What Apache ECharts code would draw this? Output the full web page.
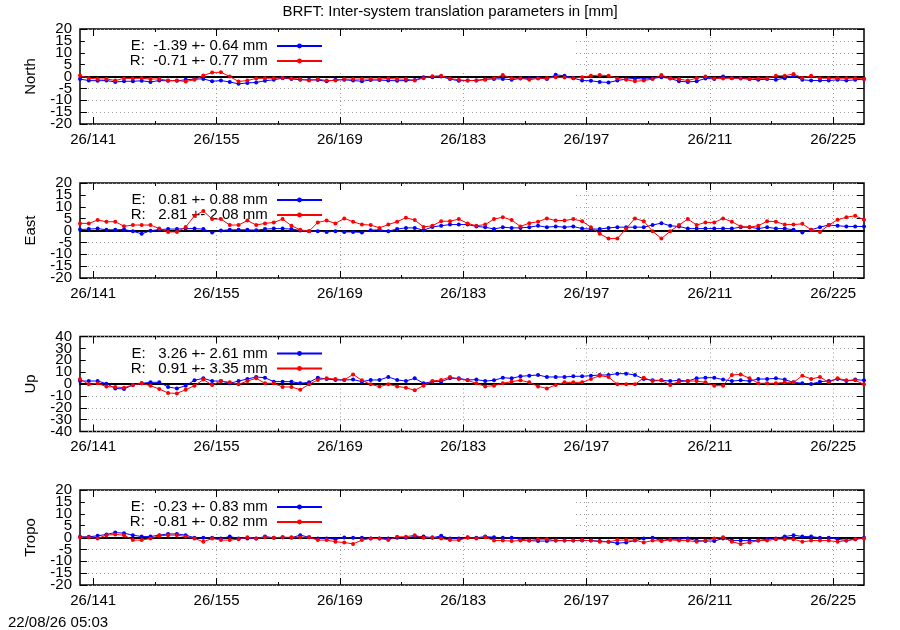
<!DOCTYPE html>
<html><head><meta charset="utf-8">
<script src="https://cdn.jsdelivr.net/npm/echarts@6/dist/echarts.min.js"></script>
<style>html,body{margin:0;padding:0;background:#fff}#c{width:900px;height:630px}</style>
</head><body><div id="c"></div>
<script>
// ---------- data ----------
const firstDay = 139.5;            // first sample (day-of-year, noon)
const xMin = 139.5, xMax = 228.5;
const majorTicks = [141, 155, 169, 183, 197, 211, 225];
const minorTicks = [148, 162, 176, 190, 204, 218];
const gridTicks  = [155, 169, 183, 197, 211, 225];
const tickPrefix = '26/';
const titleText = 'BRFT: Inter-system translation parameters in [mm]';
const stampText = '22/08/26 05:03';
const panelNames = ['North', 'East', 'Up', 'Tropo'];
const yRanges = [[-20, 20, 5], [-20, 20, 5], [-40, 40, 10], [-20, 20, 5]];
// y tick labels, split in two interleaved sets so none are dropped for overlap
const yLabelsA = [[20, 10, 0, -10, -20], [20, 10, 0, -10, -20], [40, 20, 0, -20, -40], [20, 10, 0, -10, -20]];
const yLabelsB = [[15, 5, -5, -15], [15, 5, -5, -15], [30, 10, -10, -30], [15, 5, -5, -15]];
const legendE = ['E:  -1.39 +- 0.64 mm', 'E:   0.81 +- 0.88 mm', 'E:   3.26 +- 2.61 mm', 'E:  -0.23 +- 0.83 mm'];
const legendR = ['R:  -0.71 +- 0.77 mm', 'R:   2.81 +- 2.08 mm', 'R:   0.91 +- 3.35 mm', 'R:  -0.81 +- 0.82 mm'];

const northE = [-1.1,-1.7,-1.8,-1.7,-2.3,-2.0,-2.0,-1.8,-2.3,-1.7,-1.8,-1.8,-1.4,-1.1,-1.0,-2.0,-1.7,-2.3,-3.1,-2.7,-2.5,-1.8,-1.4,-0.7,-1.0,-1.4,-1.4,-1.5,-2.0,-1.4,-1.4,-1.7,-2.0,-1.5,-1.5,-1.7,-1.8,-1.7,-1.5,-0.3,-0.3,0.0,-1.1,-1.8,-1.7,
  -1.7,-1.1,-1.0,-1.0,-1.4,-0.8,-0.7,-0.6,-1.1,0.7,0.3,-0.7,-1.7,-1.8,-2.3,-2.5,-1.7,-1.1,-0.8,-1.1,-0.8,-0.3,-0.8,-2.0,-2.3,-2.0,-0.8,-1.0,0.0,-0.7,-0.7,-1.1,-1.4,-1.1,-1.4,-0.7,0.3,-1.4,-1.7,-1.7,-1.7,-1.4,-1.7,-1.4,-1.1];
const northR = [0.4,-0.7,-1.1,-1.0,-1.7,-0.8,-0.8,-0.7,-1.1,-1.0,-1.7,-1.7,-2.1,-1.4,0.4,1.7,1.8,0.0,-2.1,-1.7,-0.8,-0.7,-0.7,-0.6,-0.8,-1.1,-1.7,-1.1,-1.7,-1.7,-1.1,-1.1,-1.1,-1.1,-1.1,-0.8,-1.1,-1.1,-1.7,-0.7,0.1,0.3,-0.8,-1.4,-1.7,
  -1.7,-1.4,-0.7,0.6,-0.7,-0.7,-1.4,-0.8,-0.7,-0.3,-0.4,-0.7,-0.3,0.3,0.6,0.3,-0.8,-1.4,-2.0,-1.7,-1.1,0.6,-0.7,-1.1,-1.7,-0.7,0.0,-0.8,-0.8,-0.7,-0.8,-1.1,-0.8,-0.7,0.3,0.3,1.1,-0.6,0.3,-0.7,-0.7,-0.7,-0.7,-0.7,-1.1];
const eastE = [0.4,0.6,0.8,0.3,0.3,0.4,-0.3,-1.4,-0.1,0.4,0.6,0.6,0.8,0.8,0.6,-0.8,0.0,0.3,0.3,0.3,0.1,0.6,0.8,0.8,0.6,0.0,-0.3,-0.3,-0.6,-0.3,-0.6,-0.6,-0.8,0.1,0.3,-0.3,0.6,1.1,1.1,0.1,1.5,2.0,2.5,2.5,2.5,
  1.7,1.4,0.6,1.4,1.1,1.1,1.4,2.0,1.4,1.7,1.4,1.7,0.8,0.6,0.6,1.1,1.4,1.4,1.4,1.4,2.3,3.1,2.0,1.7,0.8,0.8,0.8,0.8,0.8,0.8,1.4,1.4,0.8,1.4,0.8,0.8,0.3,-0.8,0.3,1.4,2.3,2.0,1.7,1.7,1.7];
const eastR = [3.0,3.0,4.4,3.7,3.7,1.8,2.3,2.3,2.3,0.8,-0.6,-0.6,1.5,6.2,8.2,4.8,4.8,2.3,2.3,4.2,2.3,3.0,3.4,4.8,2.0,0.3,-0.3,3.4,4.2,3.0,5.1,3.7,2.5,2.3,1.1,2.5,3.7,5.4,4.4,1.5,2.0,3.9,3.9,4.8,3.0,
  2.0,2.5,4.8,5.6,4.4,1.7,3.1,3.7,5.1,4.2,4.2,4.8,3.9,1.4,-1.4,-3.4,-3.4,0.8,5.1,3.9,-0.3,-3.4,-0.3,2.3,4.8,2.3,3.4,3.4,5.1,3.7,1.7,1.4,2.0,3.9,3.7,2.5,2.5,2.8,0.3,-0.6,2.3,4.5,5.6,6.2,4.5];
const upE = [2.5,2.5,2.5,0.3,-3.7,-4.2,-0.8,0.6,1.4,1.4,-2.5,-3.7,-1.4,3.1,4.8,2.5,2.5,0.6,2.5,4.2,5.9,5.3,2.0,2.0,2.0,0.6,1.4,5.3,4.2,3.4,3.4,3.7,2.0,3.4,3.4,5.9,3.4,2.5,4.8,0.6,2.0,2.0,4.8,4.8,3.4,
  3.7,2.5,3.1,5.3,4.8,6.5,7.0,7.6,5.9,5.9,5.9,6.5,6.5,7.0,7.6,7.6,8.7,8.7,7.6,4.2,3.1,3.1,2.5,3.1,2.5,4.8,5.3,5.3,3.7,2.5,3.1,2.5,4.2,4.2,4.8,3.7,1.4,0.6,0.0,2.0,2.5,4.2,2.5,3.7,3.1];
const upR = [4.2,-0.3,0.6,-2.2,-2.5,-3.1,-0.8,0.6,-1.4,-4.2,-7.6,-7.9,-4.8,-1.4,3.7,-0.8,2.5,1.4,-0.3,2.5,4.8,0.6,0.6,-2.5,-2.5,-4.8,-0.3,3.4,4.8,4.2,3.4,8.1,3.1,-0.3,-2.2,-0.3,-2.0,-3.1,-5.3,-1.4,2.5,3.4,5.9,4.2,3.1,
  0.6,-2.0,-1.4,0.6,2.0,3.1,1.4,-2.0,-3.7,-0.8,1.4,1.4,1.4,4.2,7.0,5.9,-0.3,-0.3,-0.3,5.3,2.5,3.1,-0.8,2.0,2.5,2.5,1.4,-1.4,-1.4,7.6,8.1,4.8,0.6,0.6,0.6,1.4,1.4,7.0,4.2,5.9,1.4,4.8,3.1,3.1,-0.3];
const tropoE = [0.3,0.3,0.7,1.3,2.1,1.8,1.0,0.4,0.4,1.0,1.5,1.5,1.0,-0.1,-0.1,-0.1,-0.4,0.4,-0.4,-0.4,-0.4,0.4,-0.1,0.1,-0.1,1.0,0.1,-0.4,-0.4,-0.7,0.0,-0.1,-0.1,-0.4,-0.4,-0.4,-0.1,-0.1,0.4,0.4,-0.1,0.7,-0.4,-0.4,0.1,
  -0.1,0.4,0.1,-0.1,-0.1,-0.7,-1.3,-1.5,-1.5,-1.3,-1.3,-1.3,-1.3,-1.3,-1.5,-1.8,-2.4,-2.1,-1.3,-0.4,-0.1,-1.3,-0.7,-0.7,-0.4,-1.3,-1.5,-1.5,-0.4,-1.3,-1.3,-1.3,-1.3,-0.7,-0.4,0.4,1.0,0.4,0.4,-0.1,-0.1,-0.7,-1.3,-0.7,-0.1];
const tropoR = [0.1,0.1,-0.4,1.0,1.3,1.0,-1.1,-1.1,-0.4,0.7,1.0,1.0,0.4,-0.4,-1.8,-0.4,-1.1,-1.1,-0.7,0.1,-0.4,0.1,-0.1,0.1,0.1,0.1,0.1,-1.1,-1.1,-1.8,-2.1,-2.7,-1.1,-0.4,-0.4,-1.1,0.3,0.3,1.0,-0.1,0.1,-0.4,-1.1,-1.1,-0.1,
  -0.4,0.1,-1.3,-1.3,-1.5,-1.3,-1.3,-0.7,-0.7,-1.3,-1.3,-1.3,-1.1,-1.3,-1.8,-1.8,-1.1,-1.1,-1.1,-2.1,-1.3,-1.5,-1.0,-1.3,-1.3,-1.8,-1.3,-0.4,0.1,-1.8,-2.7,-2.1,-1.3,-1.3,-0.7,-0.7,-0.7,-1.8,-1.3,-1.3,-1.3,-1.8,-1.3,-0.7,-0.4];

const seriesE = [northE, eastE, upE, tropoE];
const seriesR = [northR, eastR, upR, tropoR];

// ---------- layout / style ----------
const FONT = 'Liberation Sans, Arial, Helvetica, sans-serif';
const panelTops = [29, 183, 336.5, 490];
const panelH = 95;
const gLeft = 80, gRight = 36;
const blue = '#0000ff', red = '#ff0000';
const txt = {color: '#000', fontSize: 15, fontFamily: FONT};

const grids = [], xAxes = [], yAxes = [], series = [], legends = [];
const toPairs = arr => arr.map((v, i) => [firstDay + i, v]);

panelTops.forEach((top, p) => {
  grids.push({left: gLeft, right: gRight, top: top, height: panelH, show: true,
    borderColor: '#000', borderWidth: 1.5, backgroundColor: 'transparent',
    containLabel: false, outerBoundsMode: 'none'});
  const baseX = {gridIndex: p, type: 'value', min: xMin, max: xMax,
    axisLine: {show: false, onZero: false}, splitLine: {show: false}, axisLabel: {show: false}};
  const tick = (vals, len) => ({show: true, customValues: vals, inside: true, length: len,
    lineStyle: {color: '#000', width: 1}});
  // bottom: major ticks + labels
  xAxes.push(Object.assign({}, baseX, {position: 'bottom', axisTick: tick(majorTicks, 7),
    axisLabel: Object.assign({show: true, customValues: majorTicks, margin: 8,
      formatter: v => tickPrefix + v}, txt)}));
  // bottom: minor ticks
  xAxes.push(Object.assign({}, baseX, {position: 'bottom', axisTick: tick(minorTicks, 3)}));
  // top mirrored ticks
  xAxes.push(Object.assign({}, baseX, {position: 'top', axisTick: tick(majorTicks, 7)}));
  xAxes.push(Object.assign({}, baseX, {position: 'top', axisTick: tick(minorTicks, 3)}));
  // zero axis + vertical grid lines
  xAxes.push(Object.assign({}, baseX, {position: 'bottom',
    axisLine: {show: true, onZero: true, lineStyle: {color: '#000', width: 2}},
    axisTick: {show: false, customValues: gridTicks},
    splitLine: {show: true, lineStyle: {color: '#a0a0a0', type: [1, 3], width: 1}}}));

  const [ymin, ymax, yint] = yRanges[p];
  const baseY = {gridIndex: p, type: 'value', min: ymin, max: ymax, interval: yint,
    axisLine: {show: false, onZero: false}};
  // left: ticks, grid, first label set, axis name
  yAxes.push(Object.assign({}, baseY, {position: 'left',
    axisTick: {show: true, inside: true, length: 7, lineStyle: {color: '#000'}},
    axisLabel: Object.assign({margin: 8, customValues: yLabelsA[p],
      showMinLabel: true, showMaxLabel: true}, txt),
    splitLine: {show: true, lineStyle: {color: '#a0a0a0', type: [1, 3], width: 1}},
    name: panelNames[p], nameLocation: 'middle', nameGap: 42, nameRotate: 90,
    nameTextStyle: txt}));
  // right: mirrored ticks
  yAxes.push(Object.assign({}, baseY, {position: 'right',
    axisTick: {show: true, inside: true, length: 7, lineStyle: {color: '#000'}},
    axisLabel: {show: false}, splitLine: {show: false}}));
  // left: second (interleaved) label set
  yAxes.push(Object.assign({}, baseY, {position: 'left',
    axisTick: {show: false},
    axisLabel: Object.assign({margin: 8, customValues: yLabelsB[p],
      showMinLabel: true, showMaxLabel: true}, txt),
    splitLine: {show: false}}));

  [[legendE[p], seriesE[p], blue], [legendR[p], seriesR[p], red]].forEach(([nm, vals, col]) => {
    series.push({type: 'line', name: nm, xAxisIndex: p * 5, yAxisIndex: p * 3,
      data: toPairs(vals), symbol: 'circle', symbolSize: 4, showSymbol: true,
      lineStyle: {color: col, width: 1}, itemStyle: {color: col}, z: 2,
      emphasis: {disabled: true}, animation: false});
  });

  legends.push({data: [legendE[p], legendR[p]], orient: 'vertical', align: 'right',
    right: 327, top: top + 7.5, padding: [2, 250, 2, 45], itemGap: 0,
    itemWidth: 45, itemHeight: 6, backgroundColor: '#fff', z: 1,
    selectedMode: false, formatter: n => n + ' ', textStyle: txt});
});

const chart = echarts.init(document.getElementById('c'), null, {renderer: 'canvas'});
chart.setOption({
  backgroundColor: '#fff',
  animation: false,
  title: [
    {text: titleText, left: 'center', top: 4.5, padding: 0,
      textStyle: Object.assign({fontWeight: 'normal'}, txt)},
    {text: stampText, left: 8, top: 615.5, padding: 0,
      textStyle: Object.assign({fontWeight: 'normal'}, txt)}
  ],
  grid: grids, xAxis: xAxes, yAxis: yAxes, series: series, legend: legends
});
</script></body></html>
